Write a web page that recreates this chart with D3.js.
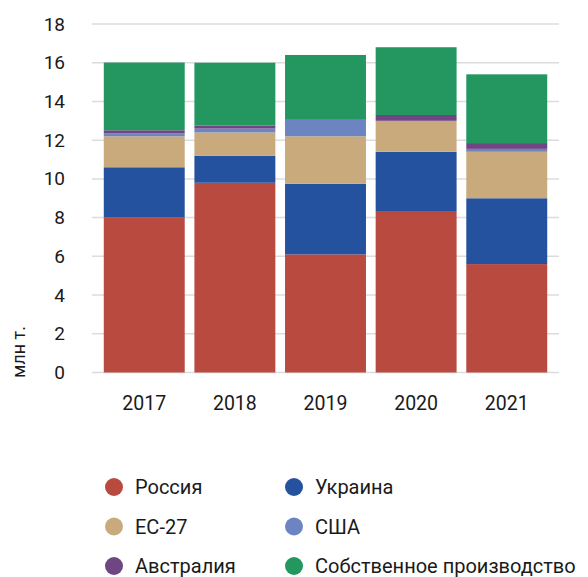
<html>
<head>
  <script src="https://d3js.org/d3.v7.min.js"></script>
  <style>
    body { margin: 0; background: #fff; }
    text { font-family: Roboto, sans-serif; fill: #1a1a1a; }
  </style>
</head>
<body>
  <div id="chart"></div>
  <script>
    // years and series values, mln t
    const years = ["2017", "2018", "2019", "2020", "2021"];
    const seriesNames = ["Россия", "Украина", "ЕС-27", "США", "Австралия", "Собственное производство"];
    const russia = [8.0, 9.8, 6.1, 8.3, 5.6];
    const ukraine = [2.6, 1.4, 3.65, 3.1, 3.4];
    const eu27 = [1.6, 1.2, 2.45, 1.6, 2.4];
    const usa = [0.15, 0.2, 0.85, 0, 0.15];
    const australia = [0.16, 0.15, 0, 0.3, 0.3];
    const ownProd = [3.5, 3.25, 3.35, 3.5, 3.55];
    const yTicks = [0, 2, 4, 6, 8, 10, 12, 14, 16, 18];

    const colors = ["#b94a40", "#25529e", "#c9aa7c", "#6d84c2", "#6f4582", "#24965f"];
    const allSeries = [russia, ukraine, eu27, usa, australia, ownProd];

    const rows = years.map((y, i) => {
      const r = { year: y };
      seriesNames.forEach((s, k) => r[s] = allSeries[k][i]);
      return r;
    });

    const W = 588, H = 577;
    const svg = d3.select("#chart").append("svg")
      .attr("width", W).attr("height", H);

    const x = d3.scaleBand()
      .domain(years)
      .range([92, 559])
      .paddingInner(0.107)
      .paddingOuter(0.13);

    const y = d3.scaleLinear()
      .domain([0, 18])
      .range([372.5, 24]);

    // gridlines
    svg.append("g")
      .selectAll("line")
      .data(yTicks)
      .join("line")
      .attr("x1", 92).attr("x2", 559)
      .attr("y1", d => y(d)).attr("y2", d => y(d))
      .attr("stroke", "#dcdcdc")
      .attr("stroke-width", 1.5);

    // y axis labels
    const yAxis = d3.axisLeft(y).tickValues(yTicks).tickSize(0).tickPadding(0);
    const gy = svg.append("g").attr("transform", "translate(65,0)").call(yAxis);
    gy.select(".domain").remove();
    gy.selectAll("text").style("font-size", "19px").style("font-family", "Roboto, sans-serif").attr("fill", "#1a1a1a");

    svg.append("text")
      .attr("transform", "translate(25,352) rotate(-90)")
      .attr("text-anchor", "middle")
      .style("font-size", "18px")
      .text("млн т.");

    // stacked bars
    const stack = d3.stack().keys(seriesNames)(rows);
    svg.append("g")
      .selectAll("g")
      .data(stack)
      .join("g")
      .attr("fill", (d, i) => colors[i])
      .selectAll("rect")
      .data(d => d)
      .join("rect")
      .attr("x", d => x(d.data.year))
      .attr("width", x.bandwidth())
      .attr("y", d => y(d[1]))
      .attr("height", d => y(d[0]) - y(d[1]));

    // x axis labels
    const xAxis = d3.axisBottom(x).tickSize(0).tickPadding(0);
    const gx = svg.append("g").attr("transform", "translate(0,396)").call(xAxis);
    gx.select(".domain").remove();
    gx.selectAll("text").style("font-size", "19.5px").style("font-family", "Roboto, sans-serif").attr("fill", "#1a1a1a");

    // legend
    const legend = svg.append("g")
      .selectAll("g")
      .data(seriesNames)
      .join("g")
      .attr("transform", (d, i) => `translate(${i % 2 === 0 ? 114 : 294}, ${487 + Math.floor(i / 2) * 39.5})`);
    legend.append("circle").attr("r", 9).attr("fill", (d, i) => colors[i]);
    legend.append("text")
      .attr("x", 21).attr("dy", "0.35em")
      .style("font-size", "20px")
      .text(d => d);
  </script>
</body>
</html>
